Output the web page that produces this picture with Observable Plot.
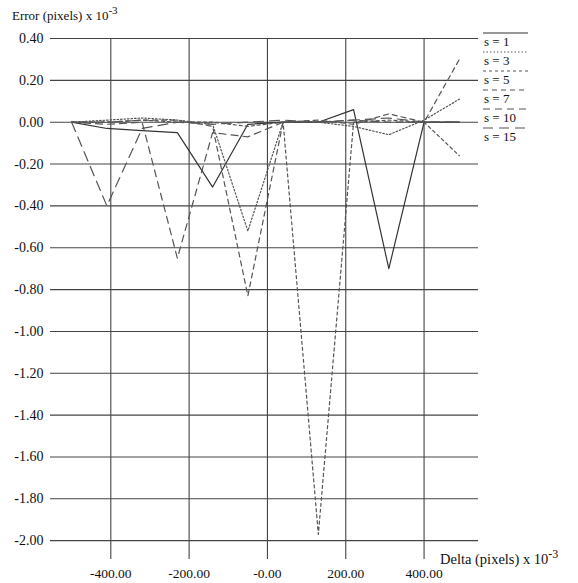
<!DOCTYPE html>
<html><head><meta charset="utf-8">
<script src="https://cdn.jsdelivr.net/npm/d3@7"></script>
<script src="https://cdn.jsdelivr.net/npm/@observablehq/plot@0.6"></script>
<style>
body{margin:0;background:#fff}
#chart{width:578px;height:583px}
</style>
</head><body><div id="chart"></div>
<script>
// Delta positions (pixels x 10^-3)
const deltas = [-500, -410, -320, -230, -140, -50, 40, 130, 220, 310, 400, 490];
const seriesNames = ["s = 1", "s = 3", "s = 5", "s = 7", "s = 10", "s = 15"];
// Error values (pixels x 10^-3)
const s1  = [0, -0.03, -0.04, -0.05, -0.31, -0.01, 0.00, 0.00, 0.06, -0.70, 0.00, 0.00];
const s3  = [0, 0.01, 0.02, 0.01, -0.01, -0.52, 0.00, 0.00, -0.02, -0.06, 0.01, 0.11];
const s5  = [0, 0.00, 0.01, 0.00, 0.00, -0.02, 0.00, -1.97, 0.00, 0.01, 0.00, -0.16];
const s7  = [0, 0.00, 0.01, 0.01, -0.02, -0.83, 0.00, 0.01, -0.01, 0.04, 0.00, 0.30];
const s10 = [0, -0.01, 0.00, -0.65, -0.05, -0.07, 0.00, 0.00, 0.01, 0.00, 0.00, 0.00];
const s15 = [0, -0.40, -0.03, 0.00, -0.01, 0.00, 0.01, 0.00, 0.01, 0.02, 0.00, 0.00];
const seriesValues = [s1, s3, s5, s7, s10, s15];
const dashStyles = ["none", "1.5,2", "3,3", "5,4", "7,5", "10,6"];
const strokeColors = ["#333", "#555", "#555", "#555", "#555", "#555"];

const xTicks = [-400, -200, 0, 200, 400];
const xTickLabels = ["-400.00", "-200.00", "-0.00", "200.00", "400.00"];
const yTicks = [0.4, 0.2, 0, -0.2, -0.4, -0.6, -0.8, -1.0, -1.2, -1.4, -1.6, -1.8, -2.0];
const yTickLabels = ["0.40", "0.20", "0.00", "-0.20", "-0.40", "-0.60", "-0.80", "-1.00", "-1.20", "-1.40", "-1.60", "-1.80", "-2.00"];
const yTitle = "Error (pixels) x 10";
const xTitle = "Delta (pixels) x 10";
const titleExp = "-3";

const rows = [];
seriesNames.forEach((name, k) => {
  deltas.forEach((d, i) => rows.push({series: name, delta: d, error: seriesValues[k][i]}));
});

const lineMarks = seriesNames.map((name, k) =>
  Plot.line(rows.filter(r => r.series === name), {
    x: "delta", y: "error",
    stroke: strokeColors[k], strokeWidth: 1.2,
    strokeDasharray: dashStyles[k] === "none" ? null : dashStyles[k]
  })
);

const plot = Plot.plot({
  width: 578, height: 583,
  marginLeft: 50, marginRight: 100, marginTop: 38, marginBottom: 24,
  style: {fontFamily: "'Liberation Serif', 'Times New Roman', serif", fontSize: "13px", color: "#111", background: "#fff"},
  x: {domain: [-554, 539]},
  y: {domain: [-2.09, 0.40]},
  marks: [
    Plot.ruleY(yTicks, {stroke: "#444", strokeWidth: 1.1}),
    Plot.ruleX(xTicks, {stroke: "#444", strokeWidth: 1.1}),
    ...lineMarks,
    Plot.axisX(xTicks, {tickSize: 0, tickPadding: 9, fontSize: 13.5, tickFormat: d => xTickLabels[xTicks.indexOf(d)], label: null}),
    Plot.axisY(yTicks, {tickSize: 0, tickPadding: 7, fontSize: 14, tickFormat: d => yTickLabels[yTicks.indexOf(d)], label: null})
  ]
});
document.getElementById("chart").appendChild(plot);

const svg = d3.select(plot);
const ff = "'Liberation Serif', 'Times New Roman', serif";
// Axis titles
const yt = svg.append("text").attr("x", 12).attr("y", 20).attr("text-anchor", "start")
  .attr("font-family", ff).attr("font-size", 13).attr("fill", "#111");
yt.append("tspan").text(yTitle);
yt.append("tspan").attr("dy", -6).attr("font-size", 11).text(titleExp);
const xt = svg.append("text").attr("x", 440).attr("y", 564).attr("text-anchor", "start")
  .attr("font-family", ff).attr("font-size", 14.5).attr("fill", "#111");
xt.append("tspan").text(xTitle);
xt.append("tspan").attr("dy", -6).attr("font-size", 12).text(titleExp);

// Legend
const lg = svg.append("g").attr("text-anchor", "start");
seriesNames.forEach((name, k) => {
  const y0 = 33 + 19 * k;
  lg.append("line").attr("x1", 483).attr("x2", 528).attr("y1", y0).attr("y2", y0)
    .attr("stroke", strokeColors[k]).attr("stroke-width", 1.2)
    .attr("stroke-dasharray", dashStyles[k] === "none" ? null : dashStyles[k]);
  lg.append("text").attr("x", 484).attr("y", y0 + 13).attr("text-anchor", "start")
    .attr("font-family", ff).attr("font-size", 13).attr("fill", "#111").text(name);
});
</script>
</body></html>
